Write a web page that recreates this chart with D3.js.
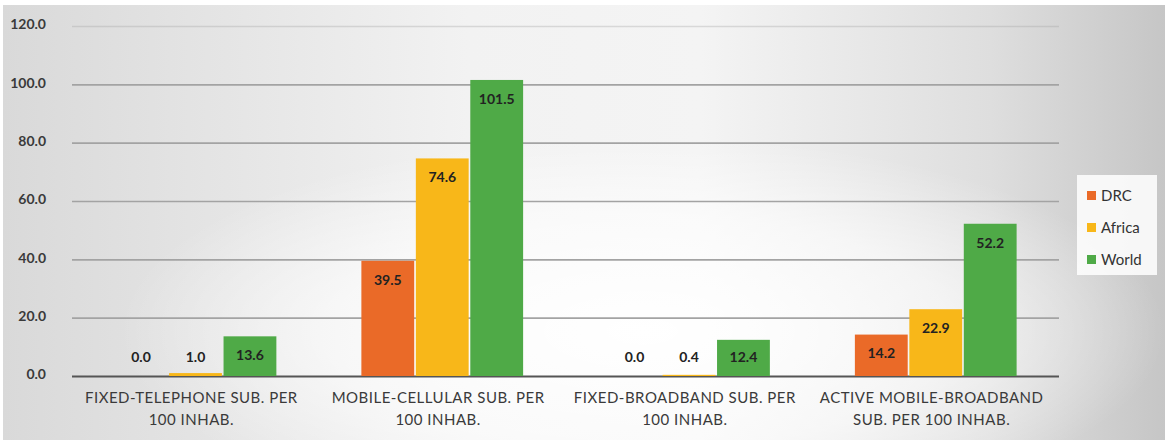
<!DOCTYPE html>
<html>
<head>
<meta charset="utf-8">
<script src="https://cdn.jsdelivr.net/npm/d3@7"></script>
<style>
  body { margin: 0; background: #ffffff; }
  text { font-family: Lato, "Open Sans", sans-serif; }
</style>
</head>
<body>
<div id="chart"></div>
<script>
// data
var categories = [
  ["FIXED-TELEPHONE SUB. PER", "100 INHAB."],
  ["MOBILE-CELLULAR SUB. PER", "100 INHAB."],
  ["FIXED-BROADBAND SUB. PER", "100 INHAB."],
  ["ACTIVE MOBILE-BROADBAND", "SUB. PER 100 INHAB."]
];
var seriesNames = ["DRC", "Africa", "World"];
var drcValues = [0.0, 39.5, 0.0, 14.2];
var africaValues = [1.0, 74.6, 0.4, 22.9];
var worldValues = [13.6, 101.5, 12.4, 52.2];
var yTicks = [0, 20, 40, 60, 80, 100, 120];

var colors = { "DRC": "#EA6A28", "Africa": "#F8B719", "World": "#4FAA47" };

var svgWidth = 1169;
var svgHeight = 440;

var plot = { left: 72, right: 1059, top: 26, bottom: 376 };

var svg = d3.select("#chart")
  .append("svg")
  .attr("width", svgWidth)
  .attr("height", svgHeight);

// background: horizontal gray fade plus a soft white glow near the bottom middle
var defs = svg.append("defs");
var lin = defs.append("linearGradient")
  .attr("id", "bgLin")
  .attr("x1", "0%").attr("x2", "100%").attr("y1", "0%").attr("y2", "0%");
lin.append("stop").attr("offset", "0%").attr("stop-color", "#d9d9d9");
lin.append("stop").attr("offset", "40%").attr("stop-color", "#f2f2f2");
lin.append("stop").attr("offset", "60%").attr("stop-color", "#f4f4f4");
lin.append("stop").attr("offset", "85%").attr("stop-color", "#dedede");
lin.append("stop").attr("offset", "100%").attr("stop-color", "#c6c6c6");

var rad = defs.append("radialGradient")
  .attr("id", "bgRad")
  .attr("cx", "55%").attr("cy", "75%").attr("r", "45%");
rad.append("stop").attr("offset", "0%").attr("stop-color", "#ffffff").attr("stop-opacity", 1);
rad.append("stop").attr("offset", "60%").attr("stop-color", "#ffffff").attr("stop-opacity", 0.6);
rad.append("stop").attr("offset", "100%").attr("stop-color", "#ffffff").attr("stop-opacity", 0);

svg.append("rect")
  .attr("x", 3).attr("y", 5)
  .attr("width", 1162).attr("height", 435)
  .attr("fill", "url(#bgLin)");
svg.append("rect")
  .attr("x", 3).attr("y", 5)
  .attr("width", 1162).attr("height", 435)
  .attr("fill", "url(#bgRad)");

var idx = d3.range(categories.length);
var rows = idx.map(function(i) {
  return { cat: i, values: [drcValues[i], africaValues[i], worldValues[i]] };
});

// scales
var x0 = d3.scaleBand()
  .domain(idx)
  .range([plot.left, plot.right])
  .padding(0);

var x1 = d3.scaleBand()
  .domain(seriesNames)
  .range([41, 206])
  .padding(0.03);

var y = d3.scaleLinear()
  .domain([0, 120])
  .range([plot.bottom, plot.top]);

// gridlines + y labels
var yAxis = d3.axisLeft(y)
  .tickValues(yTicks)
  .tickSize(-(plot.right - plot.left))
  .tickFormat(d3.format(".1f"))
  .tickPadding(26);

var gy = svg.append("g")
  .attr("transform", `translate(${plot.left},0)`)
  .call(yAxis);
gy.select(".domain").remove();
gy.selectAll(".tick line")
  .attr("stroke", function(d) { return d === 0 ? "#555" : "#a3a3a3"; })
  .attr("stroke-width", function(d) { return d === 0 ? 2 : 1.6; })
  .attr("stroke-opacity", function(d) { return d === 120 ? 0.35 : 1; });
gy.selectAll(".tick text")
  .attr("fill", "#3a3a3a")
  .style("font-size", "14px")
  .style("font-weight", "bold")
  .attr("dy", "0.2em");

// bars
var groups = svg.selectAll(".grp")
  .data(rows)
  .enter()
  .append("g")
  .attr("class", "grp")
  .attr("transform", d => `translate(${x0(d.cat)},0)`);

var cells = groups.selectAll(".cell")
  .data(d => d.values.map((v, k) => ({ name: seriesNames[k], value: v })))
  .enter()
  .append("g")
  .attr("class", "cell");

cells.append("rect")
  .attr("x", d => x1(d.name))
  .attr("y", d => y(d.value))
  .attr("width", x1.bandwidth())
  .attr("height", d => y(0) - y(d.value))
  .attr("fill", d => colors[d.name]);

cells.append("text")
  .attr("x", d => x1(d.name) + x1.bandwidth() / 2)
  .attr("y", d => Math.min(y(d.value) + 19, y(0) - 19))
  .attr("dy", "0.35em")
  .attr("text-anchor", "middle")
  .style("font-size", "14px")
  .style("font-weight", "bold")
  .attr("fill", "#222")
  .text(d => d.value.toFixed(1));

// category labels
var catX = d => x0(d.cat) + x0.bandwidth() / 2 - 4;
var catLabels = svg.selectAll(".cat")
  .data(rows)
  .enter()
  .append("text")
  .attr("class", "cat")
  .attr("text-anchor", "middle")
  .attr("fill", "#3a3a3a")
  .style("font-size", "15px")
  .style("letter-spacing", "0.5px")
  .attr("x", catX);

catLabels.append("tspan")
  .attr("y", 403)
  .text(d => categories[d.cat][0]);
catLabels.append("tspan")
  .attr("x", catX)
  .attr("y", 425)
  .text(d => categories[d.cat][1]);

// legend
var legend = svg.append("g")
  .attr("transform", "translate(1077,175)");
legend.append("rect")
  .attr("width", 80).attr("height", 100)
  .attr("fill", "#ffffff").attr("fill-opacity", 0.85);

var li = legend.selectAll(".li")
  .data(seriesNames)
  .enter()
  .append("g")
  .attr("transform", (d, i) => `translate(10,${21 + i * 32})`);
li.append("rect")
  .attr("x", 0).attr("y", -5)
  .attr("width", 9).attr("height", 9)
  .attr("fill", d => colors[d]);
li.append("text")
  .attr("x", 14)
  .attr("dy", "0.35em")
  .style("font-size", "15px")
  .attr("fill", "#333")
  .text(d => d);
</script>
</body>
</html>
